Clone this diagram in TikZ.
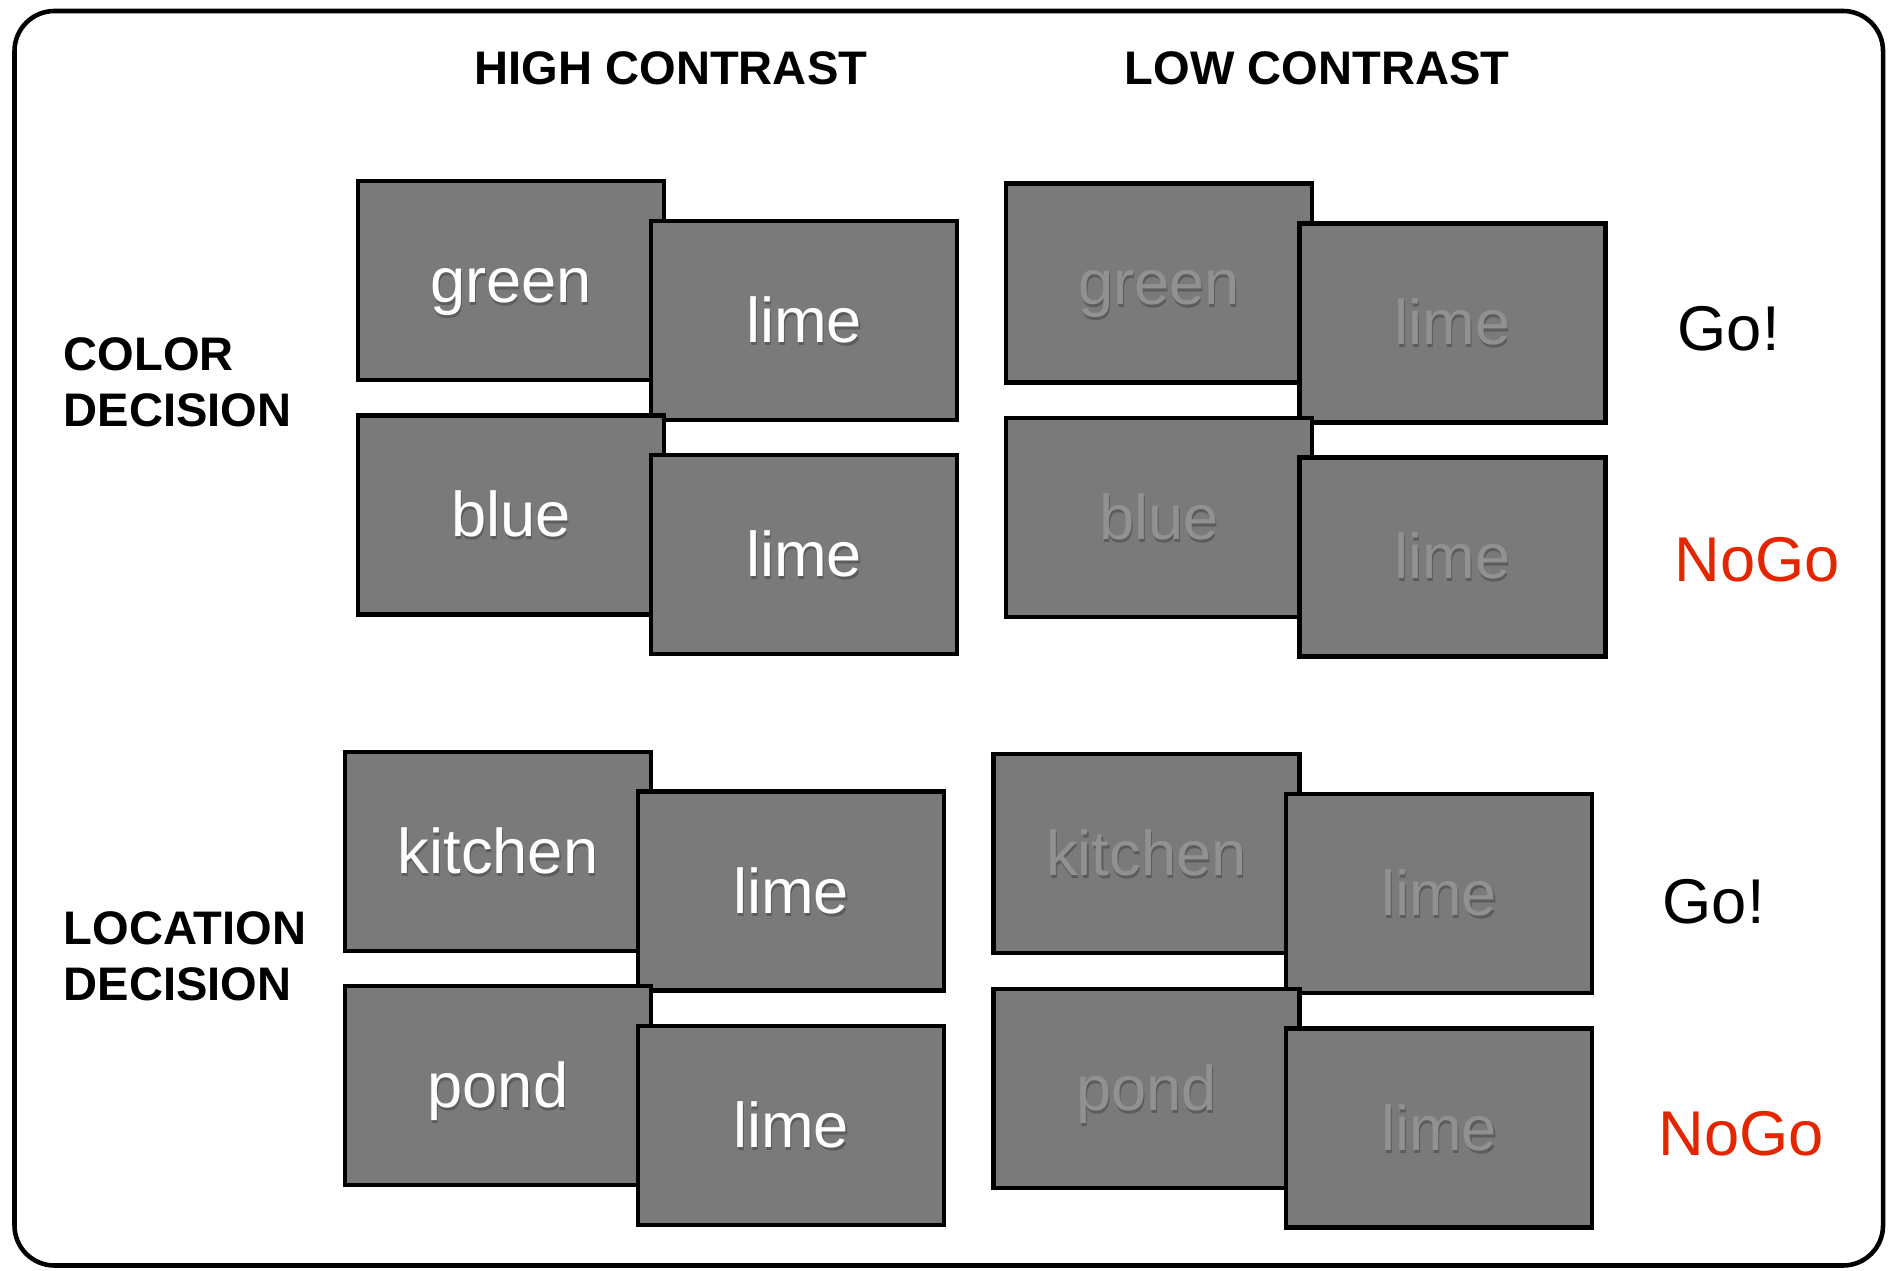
\documentclass[tikz,border=0pt]{standalone}
\usepackage{fontspec}
\setmainfont{Liberation Sans}
\usepackage{tikz}
\definecolor{cardgray}{RGB}{122,122,122}
\definecolor{dimword}{RGB}{145,145,145}
\definecolor{wordshade}{RGB}{92,92,92}
\definecolor{nogored}{RGB}{228,38,0}
% word with a soft drop shadow
\newcommand{\shadeword}[2]{\makebox[0pt][l]{\hspace{0.12mm}\raisebox{-0.3mm}{\textcolor{wordshade}{#2}}}\textcolor{#1}{#2}}
\newcommand{\hiword}[1]{\shadeword{white}{#1}}
\newcommand{\loword}[1]{\shadeword{dimword}{#1}}
\begin{document}
\begin{tikzpicture}[line join=miter,x=1.0cm,y=1.0cm,
  card/.style={draw=black,line width=1.35pt,fill=cardgray,minimum width=3.06cm,minimum height=1.99cm,
    inner sep=0pt,text height=0.5cm,text depth=0.06cm,font=\fontsize{18}{21}\selectfont},
  heading/.style={font=\bfseries\fontsize{13.4}{16}\selectfont,inner sep=0pt,align=left},
  answer/.style={font=\fontsize{18}{21}\selectfont,inner sep=0pt,anchor=base west}]
% Draw region settings
\useasboundingbox (0,0) rectangle (18.92,12.70);
% Frame
\draw[line width=1.3pt,rounded corners=0.4cm] (0.145,0.045) rectangle (18.83,12.59);
% Column titles
\node[heading,anchor=base] (hctitle) at (6.71,11.85) {HIGH CONTRAST};
\node[heading,anchor=base] (lctitle) at (13.17,11.85) {LOW CONTRAST};
% Row titles
\node[heading,anchor=west] (colorrow) at (0.63,8.88) {COLOR\\DECISION};
\node[heading,anchor=west] (locrow) at (0.63,3.14) {LOCATION\\DECISION};
% Color decision, high contrast
\node[card] (hcgreen) at (5.11,9.895) {\hiword{green}};
\node[card] (hclimea) at (8.04,9.495) {\hiword{lime}};
\node[card] (hcblue) at (5.11,7.55) {\hiword{blue}};
\node[card] (hclimeb) at (8.04,7.155) {\hiword{lime}};
% Color decision, low contrast
\node[card] (lcgreen) at (11.59,9.87) {\loword{green}};
\node[card] (lclimea) at (14.525,9.47) {\loword{lime}};
\node[card] (lcblue) at (11.59,7.525) {\loword{blue}};
\node[card] (lclimeb) at (14.525,7.13) {\loword{lime}};
% Location decision, high contrast
\node[card] (hckitchen) at (4.98,4.185) {\hiword{kitchen}};
\node[card] (hclimec) at (7.91,3.79) {\hiword{lime}};
\node[card] (hcpond) at (4.98,1.845) {\hiword{pond}};
\node[card] (hclimed) at (7.91,1.445) {\hiword{lime}};
% Location decision, low contrast
\node[card] (lckitchen) at (11.465,4.165) {\loword{kitchen}};
\node[card] (lclimec) at (14.39,3.765) {\loword{lime}};
\node[card] (lcpond) at (11.465,1.815) {\loword{pond}};
\node[card] (lclimed) at (14.39,1.42) {\loword{lime}};
% Responses
\node[answer] (colorgo) at (16.77,9.19) {Go!};
\node[answer,text=nogored] (colornogo) at (16.74,6.88) {NoGo};
\node[answer] (locgo) at (16.62,3.47) {Go!};
\node[answer,text=nogored] (locnogo) at (16.58,1.15) {NoGo};
\end{tikzpicture}
\end{document}
